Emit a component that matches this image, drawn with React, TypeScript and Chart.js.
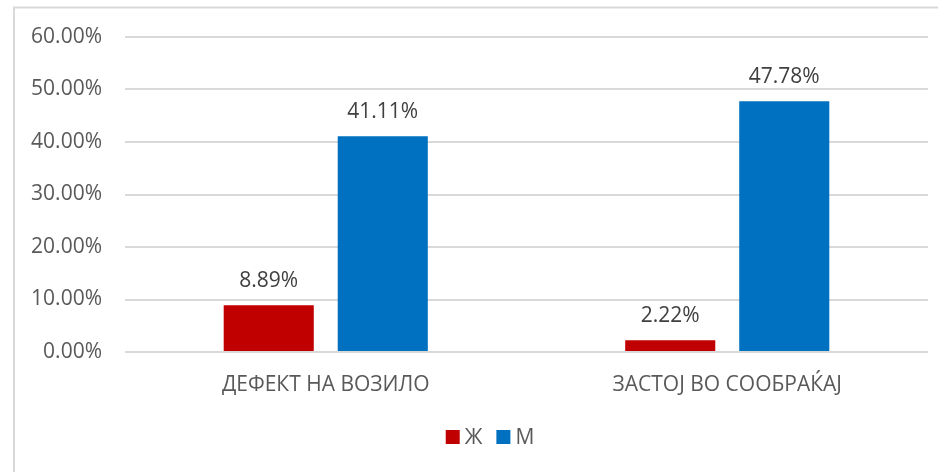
import React, { useEffect, useRef } from "react";
import { Chart, registerables } from "chart.js";

Chart.register(...registerables);

const categories = ["ДЕФЕКТ НА ВОЗИЛО", "ЗАСТОЈ ВО СООБРАЌАЈ"];
const seriesNames = ["Ж", "М"];
const seriesColors = ["#C00000", "#0070C0"];
const valuesZh = [8.89, 2.22];
const valuesM = [41.11, 47.78];
const yTicks = [0, 10, 20, 30, 40, 50, 60];

const FONT = "'Open Sans', sans-serif";
const TEXT = "#595959";
const FS = 21;

const borderPlugin = {
  id: "outerBorder",
  beforeDraw(chart: any) {
    const ctx = chart.ctx;
    ctx.save();
    ctx.fillStyle = "#ffffff";
    ctx.fillRect(0, 0, chart.width, chart.height);
    ctx.strokeStyle = "#d9d9d9";
    ctx.lineWidth = 2;
    ctx.strokeRect(14, 7.5, 2000, 2000);
    ctx.restore();
  },
};

const labelPlugin = {
  id: "valueLabels",
  afterDatasetsDraw(chart: any) {
    const ctx = chart.ctx;
    ctx.save();
    ctx.font = `${FS}px ${FONT}`;
    ctx.fillStyle = "#404040";
    ctx.textAlign = "center";
    ctx.textBaseline = "alphabetic";
    chart.data.datasets.forEach((ds: any, i: number) => {
      const meta = chart.getDatasetMeta(i);
      meta.data.forEach((bar: any, j: number) => {
        const v = ds.data[j] as number;
        ctx.fillText(v.toFixed(2) + "%", bar.x, bar.y - 18);
      });
    });
    ctx.restore();
  },
};

const legendPlugin = {
  id: "customLegend",
  afterDraw(chart: any) {
    const ctx = chart.ctx;
    ctx.save();
    ctx.font = `${FS}px ${FONT}`;
    ctx.textBaseline = "middle";
    ctx.textAlign = "left";
    const box = 14;
    const gapBoxText = 5;
    const gapItems = 14;
    const widths = seriesNames.map((n) => ctx.measureText(n).width);
    const total =
      widths.reduce((a, w) => a + box + gapBoxText + w, 0) + gapItems * (seriesNames.length - 1);
    let x = 490 - total / 2;
    const cy = 437;
    seriesNames.forEach((n, i) => {
      ctx.fillStyle = seriesColors[i];
      ctx.fillRect(x, cy - box / 2, box, box);
      x += box + gapBoxText;
      ctx.fillStyle = TEXT;
      ctx.fillText(n, x, cy + 1);
      x += widths[i] + gapItems;
    });
    ctx.restore();
  },
};

export default function App() {
  const ref = useRef<HTMLCanvasElement>(null);
  useEffect(() => {
    if (!ref.current) return;
    const chart = new Chart(ref.current, {
      type: "bar",
      data: {
        labels: categories,
        datasets: [
          { label: seriesNames[0], data: valuesZh, backgroundColor: seriesColors[0] },
          { label: seriesNames[1], data: valuesM, backgroundColor: seriesColors[1] },
        ],
      },
      options: {
        animation: false,
        responsive: false,
        layout: { padding: { left: 0, right: 10, top: 37, bottom: 52 } },
        datasets: { bar: { categoryPercentage: 0.568, barPercentage: 0.79 } },
        scales: {
          x: {
            grid: { display: false, drawTicks: false },
            border: { display: false },
            ticks: { color: TEXT, font: { family: FONT, size: FS }, padding: 20 },
            afterFit(scale: any) {
              scale.height = 68;
            },
          },
          y: {
            min: 0,
            max: 60,
            afterBuildTicks(scale: any) {
              scale.ticks = yTicks.map((v) => ({ value: v }));
            },
            grid: { color: "#d9d9d9", lineWidth: 2, drawTicks: false },
            border: { display: false },
            ticks: {
              color: TEXT,
              font: { family: FONT, size: FS },
              padding: 23,
              callback: (v: any) => Number(v).toFixed(2) + "%",
            },
            afterFit(scale: any) {
              scale.width = 125;
            },
          },
        },
        plugins: {
          legend: { display: false },
          tooltip: { enabled: false },
        },
      },
      plugins: [borderPlugin, labelPlugin, legendPlugin],
    });
    return () => chart.destroy();
  }, []);
  return (
    <div style={{ position: "absolute", left: 0, top: 0, width: 938, height: 472 }}>
      <canvas ref={ref} width={938} height={472} style={{ display: "block" }} />
    </div>
  );
}
